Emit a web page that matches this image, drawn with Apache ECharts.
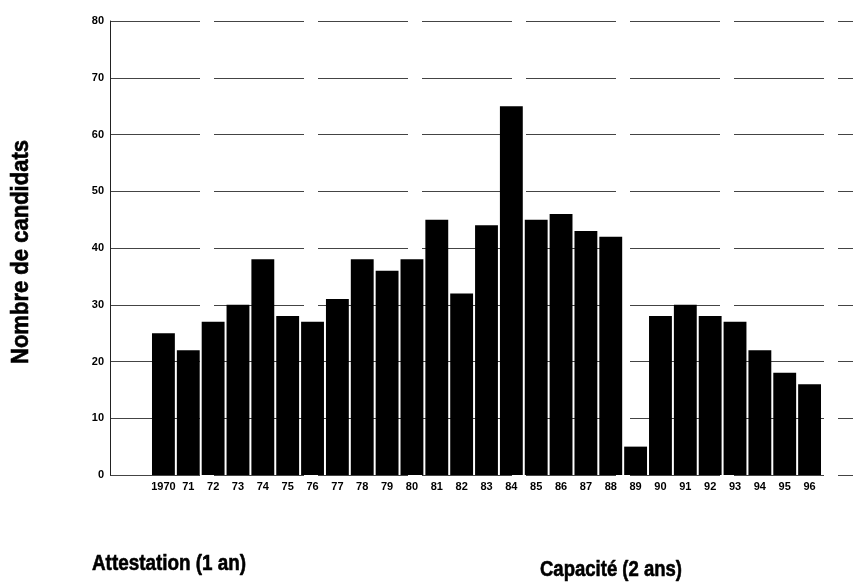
<!DOCTYPE html>
<html>
<head>
<meta charset="utf-8">
<script src="https://cdn.jsdelivr.net/npm/echarts@6/dist/echarts.min.js"></script>
<style>html,body{margin:0;padding:0;background:#fff;}#c{width:853px;height:587px;}</style>
</head>
<body>
<div id="c"></div>
<script>
const categories = ['1970','71','72','73','74','75','76','77','78','79','80','81','82','83','84','85','86','87','88','89','90','91','92','93','94','95','96'];
const values = [25,22,27,30,38,28,27,31,38,36,38,45,32,44,65,45,46,43,42,5,28,30,28,27,22,18,16];
const yTicks = [0,10,20,30,40,50,60,70,80];
const yName = 'Nombre de candidats';
const leftNote = 'Attestation (1 an)';
const rightNote = 'Capacité (2 ans)';

const fam = "'Liberation Sans', Arial, sans-serif";
const ctx = document.createElement('canvas').getContext('2d');
function widthOf(text, font) { ctx.font = font; return ctx.measureText(text).width; }

const nameFont = 'bold 23px ' + fam;
const nameScale = 224 / widthOf(yName, nameFont);
const noteFont = 'bold 22px ' + fam;
const leftScale = 154 / widthOf(leftNote, noteFont);
const rightScale = 142 / widthOf(rightNote, noteFont);

const chart = echarts.init(document.getElementById('c'), null, {renderer: 'canvas'});
chart.setOption({
  backgroundColor: '#fff',
  animation: false,
  grid: [
    {left: 110, right: 0, top: 21, bottom: 112},
    {left: 151, right: 31, top: 21, bottom: 112}
  ],
  xAxis: [
    {gridIndex: 0, type: 'category', data: categories, show: false},
    {gridIndex: 1, type: 'category', data: categories,
     axisLine: {show: false}, axisTick: {show: false},
     axisLabel: {color: '#000', fontWeight: 'bold', fontSize: 11, fontFamily: fam, margin: 6, interval: 0}}
  ],
  yAxis: [
    {gridIndex: 0, type: 'value', min: yTicks[0], max: yTicks[yTicks.length-1], interval: 10,
     axisLine: {show: true, lineStyle: {color: '#222', width: 1}},
     axisTick: {show: false},
     axisLabel: {color: '#000', fontWeight: 'bold', fontSize: 11, fontFamily: fam, margin: 6},
     splitLine: {show: true, lineStyle: {color: '#444', width: 1, type: [90, 14]}}},
    {gridIndex: 1, type: 'value', min: yTicks[0], max: yTicks[yTicks.length-1], interval: 10, show: false, splitLine: {show: false}}
  ],
  series: [{
    type: 'bar', xAxisIndex: 1, yAxisIndex: 1, data: values,
    barCategoryGap: '8%',
    itemStyle: {color: '#000'}
  }],
  graphic: [
    {type: 'text', x: 22, y: 252, rotation: Math.PI / 2, scaleX: nameScale,
     style: {text: yName, fill: '#000', font: nameFont, textAlign: 'center', textVerticalAlign: 'middle', stroke: '#000', lineWidth: 0.6}},
    {type: 'text', x: 92, y: 575, scaleX: leftScale,
     style: {text: leftNote, fill: '#000', font: noteFont, textAlign: 'left', textVerticalAlign: 'bottom', stroke: '#000', lineWidth: 0.6}},
    {type: 'text', x: 540, y: 581, scaleX: rightScale,
     style: {text: rightNote, fill: '#000', font: noteFont, textAlign: 'left', textVerticalAlign: 'bottom', stroke: '#000', lineWidth: 0.6}}
  ]
});
</script>
</body>
</html>
